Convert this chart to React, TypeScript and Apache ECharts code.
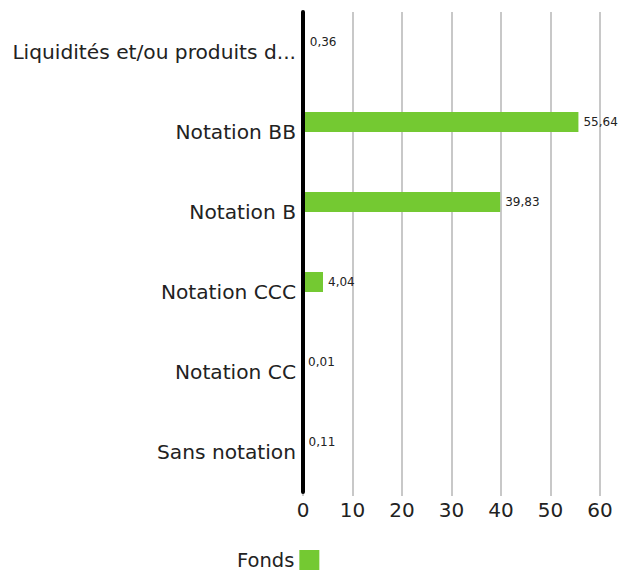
import React, { useEffect, useRef } from "react";
import * as echarts from "echarts";

const categories = [
  "Liquidités et/ou produits d...",
  "Notation BB",
  "Notation B",
  "Notation CCC",
  "Notation CC",
  "Sans notation",
];
const fondsValues = [0.36, 55.64, 39.83, 4.04, 0.01, 0.11];
const xTicks = [0, 10, 20, 30, 40, 50, 60];

const FONT = "'DejaVu Sans', 'Open Sans', sans-serif";

export default function App() {
  const ref = useRef<HTMLDivElement>(null);
  useEffect(() => {
    if (!ref.current) return;
    const chart = echarts.init(ref.current, null, { renderer: "svg" });
    chart.setOption({
      animation: false,
      textStyle: { fontFamily: FONT },
      grid: { left: 303, right: 23, top: 12, bottom: 80, containLabel: false },
      legend: {
        data: ["Fonds"],
        left: 237,
        top: 550,
        padding: 0,
        align: "right",
        itemWidth: 20,
        itemHeight: 20,
        itemGap: 8,
        icon: "rect",
        textStyle: { fontSize: 19.5, lineHeight: 20, color: "#222", fontFamily: FONT },
      },
      xAxis: {
        type: "value",
        min: xTicks[0],
        max: xTicks[xTicks.length - 1],
        interval: 10,
        axisLine: { show: false },
        axisTick: { show: true, length: 4, lineStyle: { color: "#c8c8c8", width: 2 } },
        splitLine: { show: true, lineStyle: { color: "#c8c8c8", width: 2 } },
        axisLabel: { fontSize: 20, color: "#222", margin: 8, fontFamily: FONT },
      },
      yAxis: {
        type: "category",
        data: categories,
        inverse: true,
        z: 5,
        axisLine: { show: true, lineStyle: { color: "#000", width: 4 } },
        axisTick: { show: false },
        axisLabel: {
          fontSize: 20.2,
          color: "#222",
          margin: 7,
          padding: [6, 0, 0, 0],
          fontFamily: FONT,
        },
      },
      series: [
        {
          name: "Fonds",
          type: "bar",
          data: fondsValues,
          barWidth: 20,
          barGap: "0%",
          barCategoryGap: "50%",
          itemStyle: { color: "#74C932" },
          label: {
            show: true,
            position: "right",
            distance: 5,
            fontSize: 12,
            color: "#222",
            fontFamily: FONT,
            formatter: (p: any) => String(p.value).replace(".", ","),
          },
        },
        {
          name: "empty",
          type: "bar",
          data: fondsValues.map(() => null),
          barWidth: 20,
          itemStyle: { color: "transparent" },
        },
      ],
    });
    return () => chart.dispose();
  }, []);
  return (
    <div
      ref={ref}
      style={{ position: "absolute", left: 0, top: 0, width: 623, height: 572 }}
    />
  );
}
